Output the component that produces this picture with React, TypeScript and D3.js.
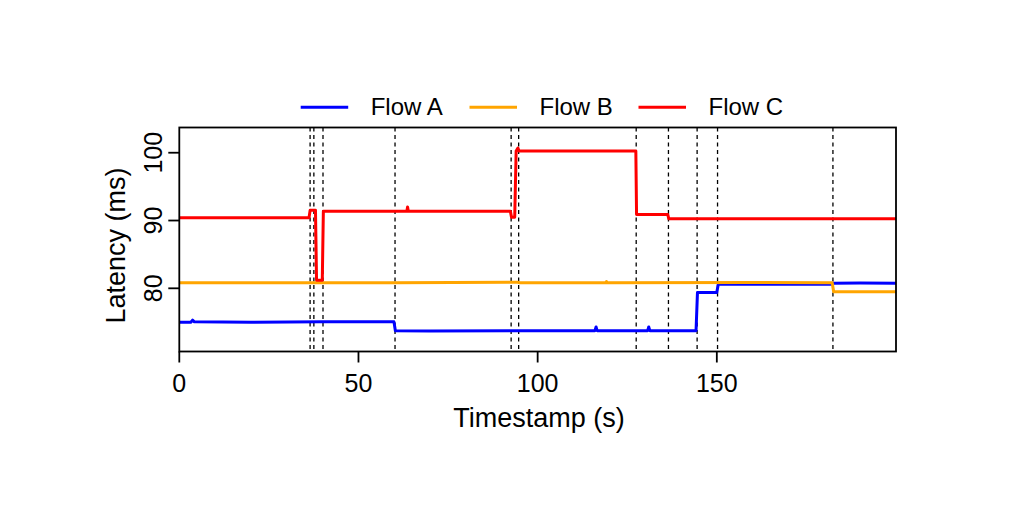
import React from "react";
import * as d3 from "d3";

// ---- data ----
const seriesNames = ["Flow A", "Flow B", "Flow C"];
const seriesColors = ["#0000ff", "#ffa500", "#ff0000"];

const flowA: [number, number][] = [
  [0, 75.0], [3.2, 75.0], [3.7, 75.3], [4.2, 75.05], [20, 75.0], [40, 75.05],
  [59.9, 75.05], [60.3, 73.75], [70, 73.7], [116, 73.75], [116.3, 74.3],
  [116.6, 73.75], [130.7, 73.75], [131, 74.3], [131.3, 73.75], [144.2, 73.75],
  [144.6, 79.4], [150, 79.4], [150.4, 80.6], [182.2, 80.6], [182.5, 80.75],
  [190, 80.8], [200, 80.75],
];
const flowB: [number, number][] = [
  [0, 80.83], [60, 80.83], [94.5, 80.9], [95, 80.83], [119, 80.83], [119.2, 81.0],
  [119.4, 80.83], [160, 80.85], [182.2, 80.83], [182.6, 79.5], [200, 79.5],
];
const flowC: [number, number][] = [
  [0, 90.4], [36.2, 90.4], [36.5, 91.5], [38.0, 91.5], [38.3, 81.2], [39.9, 81.2],
  [40.2, 91.35], [63.5, 91.35], [63.7, 92.0], [63.9, 91.35], [92.4, 91.35],
  [92.7, 90.5], [93.6, 90.5], [94.0, 100.25], [94.5, 100.7], [94.8, 100.25],
  [127.4, 100.25], [127.6, 90.9], [136.3, 90.9], [136.6, 90.25], [200, 90.25],
];
const allSeries = [flowA, flowB, flowC];

const eventTimes = [36.5, 37.55, 40.1, 60.2, 92.6, 94.7, 127.5, 136.5, 144.5, 150.2, 182.4];
const xTicks = [0, 50, 100, 150];
const yTicks = [80, 90, 100];
const xDomain = [0, 200];
const yDomain = [70.68, 103.72];

const FONT = "'Liberation Sans', Arial, Helvetica, sans-serif";

export default function App() {
  const left = 179.3, right = 896, top = 127.5, bottom = 351.5;
  const x = d3.scaleLinear().domain(xDomain).range([left, right]);
  const y = d3.scaleLinear().domain(yDomain).range([bottom, top]);
  const line = d3.line<[number, number]>().x(d => x(d[0])).y(d => y(d[1]));
  const legendX = [300.7, 469.5, 638.5];

  return (
    <svg width={1024} height={512} style={{ position: "absolute", left: 0, top: 0, background: "#fff" }}
      fontFamily={FONT}>
      <rect x={0} y={0} width={1024} height={512} fill="#fff" />
      {eventTimes.map((t, i) => (
        <line key={"e" + i} x1={x(t)} x2={x(t)} y1={top} y2={bottom} stroke="#000"
          strokeWidth={1.3} strokeDasharray="4,3.5" />
      ))}
      {allSeries.map((s, i) => (
        <path key={"s" + i} d={line(s) || ""} fill="none" stroke={seriesColors[i]}
          strokeWidth={3} strokeLinejoin="round" />
      ))}
      <rect x={left} y={top} width={right - left} height={bottom - top} fill="none" stroke="#000" strokeWidth={1.8} />
      {xTicks.map(t => (
        <g key={"xt" + t}>
          <line x1={x(t)} x2={x(t)} y1={bottom} y2={bottom + 11} stroke="#000" strokeWidth={1.8} />
          <text x={x(t)} y={391.5} textAnchor="middle" fontSize={25}>{t}</text>
        </g>
      ))}
      {yTicks.map(t => (
        <g key={"yt" + t}>
          <line x1={left - 11} x2={left} y1={y(t)} y2={y(t)} stroke="#000" strokeWidth={1.8} />
          <text transform={`translate(${161.5},${y(t)}) rotate(-90)`} textAnchor="middle" fontSize={25}>{t}</text>
        </g>
      ))}
      <text x={539} y={426.5} textAnchor="middle" fontSize={27}>Timestamp (s)</text>
      <text transform={`translate(125,245.5) rotate(-90)`} textAnchor="middle" fontSize={27}>Latency (ms)</text>
      {seriesNames.map((n, i) => (
        <g key={"lg" + i}>
          <line x1={legendX[i]} x2={legendX[i] + 47.5} y1={107.3} y2={107.3} stroke={seriesColors[i]} strokeWidth={3} />
          <text x={legendX[i] + 70} y={115} fontSize={24}>{n}</text>
        </g>
      ))}
    </svg>
  );
}
